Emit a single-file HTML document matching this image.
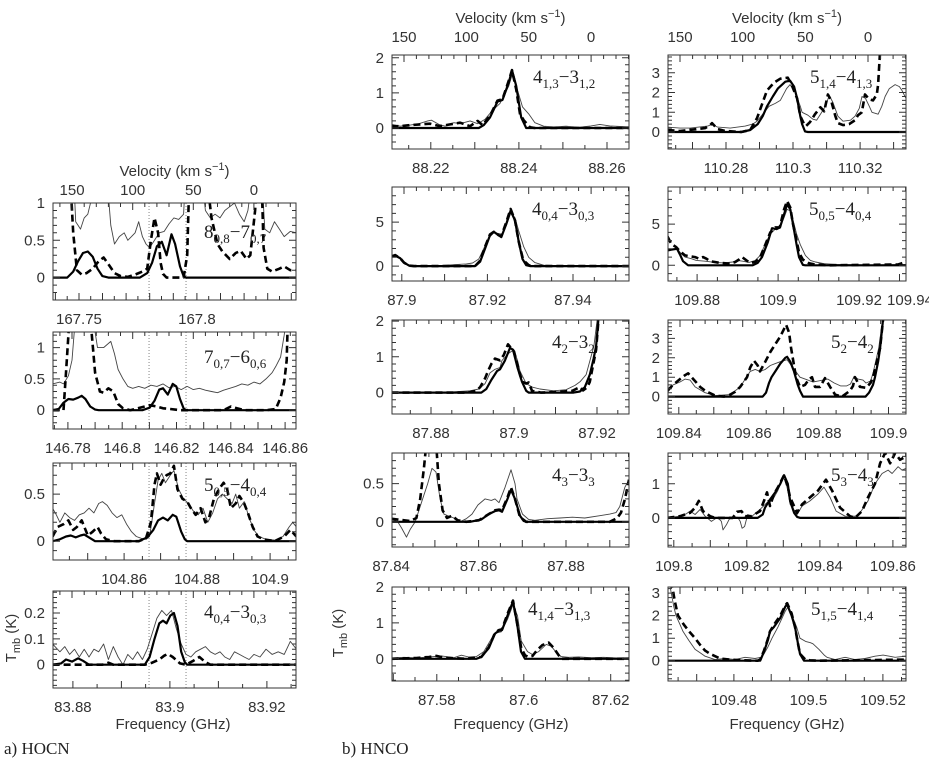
<!DOCTYPE html>
<html><head><meta charset="utf-8"><style>
html,body{margin:0;padding:0;background:#fff;}
svg{display:block;}
.tk{font-family:"Liberation Sans",sans-serif;font-size:15px;fill:#333;}
.tl{font-family:"Liberation Serif",serif;font-size:19px;fill:#222;}
.cap{font-family:"Liberation Serif",serif;font-size:17px;fill:#222;}
</style></head><body>
<svg id="fig" width="929" height="758" viewBox="0 0 929 758" xmlns="http://www.w3.org/2000/svg"></svg>
<script>
// ---------- data (velocity km/s, Tmb K) ----------
const hocn1Solid=[[166,0],[154,0],[149,0.08],[145,0.22],[141,0.33],[137,0.35],[133,0.28],[129,0.12],[125,0.02],[120,0],[94,0],[88,0.06],[84,0.2],[80,0.42],[76,0.48],[72,0.3],[68,0.58],[65,0.45],[61,0.15],[58,0.02],[56,0],[-35,0]];
const hocn1Dash=[[166,1.5],[152,1.5],[149,0.6],[146,0.1],[142,0.04],[138,0.06],[133,0.12],[128,0.22],[124,0.27],[120,0.18],[115,0.06],[110,0.02],[104,0.01],[98,0.04],[92,0.08],[88,0.12],[85,0.5],[82,0.8],[79,0.6],[77,0.2],[75,0.05],[72,0],[58,0],[55,0.3],[53,1.5],[40,1.5],[35,0.8],[30,0.45],[26,0.35],[20,0.25],[15,0.33],[11,0.36],[6,0.25],[3,0.3],[-1,0.9],[-3,1.5],[-6,1.5],[-8,0.4],[-11,0.12],[-15,0.08],[-21,0.12],[-25,0.15],[-30,0.1],[-35,0.1]];
const hocn1Obs=[[166,1.5],[149,1.5],[147,0.75],[145,0.7],[143,0.65],[140,0.8],[137,0.85],[134,1.05],[130,1.5],[122,1.5],[118,0.7],[115,0.45],[111,0.55],[107,0.6],[104,0.5],[101,0.55],[98,0.6],[95,0.75],[92,0.55],[89,0.45],[86,0.4],[82,0.5],[78,0.6],[74,0.62],[70,0.72],[66,0.8],[62,0.78],[58,0.85],[56,1.5],[44,1.5],[40,0.9],[36,0.8],[32,0.85],[28,0.8],[24,0.9],[20,0.95],[16,1.0],[12,0.85],[8,0.75],[5,0.9],[0,1.5],[-6,1.5],[-9,0.65],[-13,0.6],[-17,0.75],[-21,0.65],[-25,0.55],[-30,0.62],[-35,0.6]];

const hocn2Solid=[[166,0],[161,0.02],[157,0.12],[153,0.18],[149,0.17],[145,0.2],[142,0.23],[139,0.18],[135,0.06],[131,0.01],[128,0],[92,0],[86,0.04],[82,0.15],[78,0.33],[75,0.35],[71,0.25],[67,0.42],[64,0.38],[61,0.18],[58,0.03],[56,0],[-35,0]];
const hocn2Dash=[[166,0],[157,0],[155,0.6],[152,1.5],[135,1.5],[131,0.6],[127,0.3],[124,0.28],[120,0.35],[116,0.3],[112,0.1],[108,0.03],[102,0],[94,0.04],[86,0.08],[80,0.06],[75,0.03],[69,0.02],[61,0],[25,0],[19,0.06],[14,0.03],[8,0],[-10,0],[-18,0.02],[-22,0.2],[-25,0.45],[-27,0.8],[-28,1.5],[-35,1.5]];
const hocn2Obs=[[166,0.42],[160,0.45],[157,0.42],[153,0.55],[150,0.8],[148,1.3],[146,1.5],[133,1.5],[129,1.0],[124,1.0],[118,1.1],[115,0.9],[112,0.65],[108,0.5],[104,0.38],[100,0.35],[95,0.38],[90,0.35],[85,0.4],[80,0.38],[75,0.42],[70,0.36],[65,0.38],[60,0.33],[55,0.38],[50,0.33],[45,0.35],[40,0.32],[35,0.3],[30,0.28],[25,0.32],[20,0.35],[15,0.38],[10,0.42],[5,0.4],[0,0.45],[-5,0.42],[-10,0.5],[-15,0.6],[-18,0.7],[-22,0.85],[-25,1.2],[-27,1.5],[-35,1.5]];

const hocn3Solid=[[166,0],[160,0.02],[155,0.05],[151,0.06],[147,0.04],[143,0.06],[140,0.07],[136,0.04],[131,0],[95,0],[88,0.04],[83,0.12],[79,0.22],[75,0.25],[71,0.22],[67,0.28],[64,0.26],[60,0.1],[57,0.02],[55,0],[-35,0]];
const hocn3Dash=[[166,0.05],[162,0.15],[157,0.18],[153,0.22],[149,0.12],[146,0.15],[142,0.22],[137,0.06],[133,0.1],[129,0.15],[126,0.08],[122,0.02],[115,0],[95,0],[89,0.03],[85,0.2],[82,0.6],[80,0.72],[77,0.6],[75,0.65],[72,0.7],[69,0.72],[66,0.8],[63,0.55],[59,0.45],[55,0.42],[52,0.35],[48,0.28],[44,0.35],[40,0.2],[37,0.25],[33,0.45],[29,0.55],[25,0.62],[22,0.55],[19,0.35],[15,0.4],[12,0.48],[8,0.4],[5,0.3],[1,0.15],[-3,0.05],[-8,0.02],[-17,0],[-25,0.05],[-30,0.12],[-35,0.05]];
const hocn3Obs=[[166,0.35],[163,0.28],[160,0.2],[156,0.3],[152,0.25],[148,0.22],[144,0.28],[140,0.3],[136,0.35],[132,0.3],[128,0.4],[125,0.42],[121,0.38],[117,0.3],[113,0.25],[109,0.28],[105,0.18],[101,0.1],[97,0.05],[93,0.03],[89,0.02],[86,0.05],[82,0.4],[79,0.65],[76,0.72],[73,0.62],[69,0.7],[66,0.75],[62,0.55],[58,0.45],[54,0.4],[50,0.32],[46,0.28],[42,0.35],[38,0.2],[34,0.3],[30,0.45],[26,0.5],[22,0.45],[18,0.4],[15,0.5],[12,0.35],[8,0.42],[4,0.25],[0,0.12],[-4,0.05],[-10,0.02],[-18,0.01],[-24,0.05],[-29,0.15],[-32,0.2],[-35,0.15]];

const hocn4Solid=[[166,0],[159,0.005],[155,0.02],[150,0.012],[145,0.025],[141,0.015],[136,0],[90,0],[86,0.03],[82,0.1],[78,0.16],[75,0.17],[72,0.16],[69,0.19],[66,0.2],[63,0.15],[60,0.05],[57,0.01],[55,0],[-35,0]];
const hocn4Dash=[[166,0],[125,0],[120,0.008],[116,0],[90,0],[84,0.008],[78,0.02],[74,0.035],[71,0.042],[67,0.03],[64,0.018],[61,0.005],[56,0],[50,0.015],[45,0.03],[40,0.01],[36,0],[-35,0]];
const hocn4Obs=[[166,0.08],[160,0.05],[156,0.07],[152,0.04],[148,0.06],[144,0.03],[140,0.06],[136,0.03],[132,0.06],[128,0.05],[124,0.08],[120,0.02],[116,0.07],[112,0.03],[108,0],[104,0.04],[100,0.02],[96,0.05],[92,0.02],[88,0.06],[84,0.12],[80,0.18],[76,0.21],[72,0.19],[68,0.21],[64,0.14],[60,0.08],[56,0.04],[52,0.03],[48,0.05],[44,0.06],[40,0.07],[36,0.05],[32,0.04],[28,0.05],[24,0.03],[20,0.02],[16,0.05],[12,0.04],[8,0.03],[4,0.02],[0,0.04],[-5,0.03],[-10,0.06],[-15,0.04],[-20,0.05],[-25,0.04],[-30,0.09],[-35,0.06]];

const hnco1Solid=[[160,0],[90,0],[86,0.08],[81,0.3],[75,0.75],[71,0.8],[66,1.3],[63.4,1.65],[60,1.2],[56,0.3],[52,0],[-31,0]];
const hnco1Dash=[[160,0.05],[153,0.05],[145,0.08],[137,0.1],[129,0.12],[121,0.05],[113,0.1],[105,0.15],[97,0.05],[91,0.2],[87,0.08],[81,0.35],[75,0.78],[71,0.82],[66,1.35],[63.4,1.65],[60,1.1],[57,0.4],[54,0.22],[49,0.02],[45,0],[-31,0]];
const hnco1Obs=[[160,0.1],[153,0.05],[145,0.08],[138,0.12],[131,0.2],[128,0.22],[122,0.1],[117,0.05],[110,0.15],[105,0.12],[97,0.2],[91,0.12],[85,0.25],[79,0.5],[73,0.7],[66,1.2],[63.4,1.5],[60,1.2],[55,0.6],[50,0.4],[45,0.15],[38,0.05],[30,0.03],[20,0.05],[10,0.02],[0,0.06],[-7,0.1],[-15,0.06],[-25,0.04],[-31,0.03]];

const hnco2Solid=[[160,1.1],[157,1.2],[153,0.9],[150,0.4],[146,0.05],[142,0],[93,0],[89,0.5],[85,2],[81,3.5],[78,3.9],[74,3.5],[72,3.3],[68,4.8],[64.5,6.3],[61,5.2],[58,2.8],[55,0.8],[52,0.1],[49,0],[-31,0]];
const hnco2Dash=[[160,1.1],[157,1.25],[153,0.9],[150,0.4],[146,0.05],[142,0],[93,0],[89,0.6],[85,2.2],[81,3.6],[78,3.9],[74,3.5],[72,3.4],[68,5],[64.5,6.5],[61,5.2],[58,2.8],[55,1],[53,0.5],[50,0.1],[47,0],[-31,0]];
const hnco2Obs=[[160,1.0],[157,1.1],[153,0.8],[150,0.35],[146,0.1],[140,0],[120,0.05],[110,0.15],[100,0.25],[95,0.35],[90,0.8],[86,2],[82,3.2],[78,3.8],[74,3.7],[71,3.6],[68,4.6],[64.5,6],[61,5.5],[58,4],[54,2.2],[50,1],[45,0.4],[38,0.1],[30,0.05],[0,0],[-31,0]];

const hnco3Solid=[[160,0],[88,0],[84,0.1],[80,0.35],[75.4,0.6],[73,0.65],[69,0.9],[65,1.25],[62.6,1.2],[59,0.7],[55.4,0.3],[52,0.05],[50,0],[14,0],[9,0.03],[5,0.15],[1,0.5],[-2,0.95],[-4,1.3],[-7,2.5],[-31,3]];
const hnco3Dash=[[160,0],[100,0],[92,0.05],[89,0.15],[85,0.4],[82.6,0.6],[80,0.8],[77,0.95],[73,0.9],[70,1.05],[66.6,1.35],[61.8,1.15],[57,0.5],[55,0.3],[52,0.25],[50,0.28],[47.4,0.05],[40,0],[25,0.02],[15,0.05],[11,0.12],[8.9,0.15],[6.5,0.06],[3,0.15],[1,0.3],[-4,1.2],[-7,2.5],[-31,3]];
const hnco3Obs=[[160,0],[130,0],[110,0.02],[97,0.05],[90,0.1],[85,0.25],[81,0.55],[77,0.65],[73,0.7],[71.4,0.9],[66,1.1],[62,1.2],[59,0.9],[57,0.6],[52,0.25],[47,0.15],[41,0.1],[30,0.05],[20,0.08],[12.9,0.2],[8.9,0.3],[4,0.5],[0.9,0.9],[-2.3,1.3],[-5.5,2.2],[-8,3],[-31,3]];

const hnco4Solid=[[160,0],[97,0],[88,0.03],[82,0.1],[77,0.14],[73.8,0.15],[71.4,0.13],[67,0.3],[64.2,0.42],[61,0.3],[57,0.08],[54,0.01],[52,0],[-31,0]];
const hnco4Dash=[[160,0.04],[155,0.03],[150,0.02],[145,0.01],[140,0.05],[137,0.3],[134,0.7],[131,1.2],[125,1.2],[122,0.5],[119,0.15],[115.5,0.05],[111.5,0.08],[107,0.02],[100,0],[90,0.02],[82,0.1],[77,0.15],[73.8,0.16],[71.4,0.15],[67,0.32],[64.2,0.45],[61,0.3],[57,0.06],[52,0],[-15,0],[-21,0.05],[-24,0.12],[-27.2,0.3],[-30.4,0.55]];
const hnco4Obs=[[160,0.03],[155,0],[152,-0.08],[148,-0.2],[145,-0.1],[141,0],[136,0.25],[131,0.5],[127.5,0.7],[124.3,0.65],[121,0.3],[118,0.1],[115,0.08],[110,0.05],[105,0],[100,0.04],[95.5,0.1],[90.7,0.22],[85,0.3],[80,0.28],[77,0.3],[73.8,0.25],[69,0.45],[64.2,0.68],[61,0.5],[59.4,0.3],[55,0.1],[50,0.03],[45,0.02],[35,0.04],[25,0.05],[15,0.06],[5,0.05],[-7,0.08],[-15,0.1],[-20,0.12],[-23,0.2],[-27,0.45],[-30.4,0.55]];

const hnco5Solid=[[160,0],[92,0],[88,0.05],[82,0.3],[77,0.7],[74,0.78],[71.4,0.8],[67,1.2],[62.6,1.6],[59.4,1.0],[56.2,0.2],[53,0],[-31,0]];
const hnco5Dash=[[160,0],[140,0.02],[130,0.05],[124,0.08],[118,0.03],[100,0],[88,0.05],[82,0.32],[77,0.72],[74,0.8],[71.4,0.82],[67,1.25],[62.6,1.62],[59.4,1.0],[56,0.3],[53,0.1],[51,0.06],[47,0.08],[43,0.25],[39,0.38],[34,0.45],[30,0.3],[27,0.15],[24,0],[-31,0]];
const hnco5Obs=[[160,0.02],[150,0.04],[140,0.02],[130,0.05],[120,0.08],[110,0.03],[104,0.1],[98,0.05],[92,0.06],[86,0.2],[80,0.55],[76,0.72],[72,0.75],[67,1.1],[62.6,1.5],[59,1.2],[56,0.5],[51,0.2],[47,0.12],[42,0.2],[36,0.4],[32,0.35],[28,0.18],[24,0.06],[18,0.04],[10,0.05],[0,0.03],[-10,0.04],[-20,0.02],[-31,0.03]];

const hnco6Solid=[[160,0],[101,0],[94,0.1],[88,0.4],[84,0.8],[80.6,1.3],[76,1.8],[72,2.2],[66,2.55],[62.2,2.6],[59,2.3],[56.6,1.7],[54,0.8],[52.6,0.4],[50.3,0.03],[48,0],[-31,0]];
const hnco6Dash=[[160,0.1],[150,0.05],[140,0.12],[130,0.2],[126,0.35],[124.5,0.45],[120,0.15],[114,0.05],[101,0],[94,0.1],[88.6,0.7],[84,1.5],[80.6,2.1],[75,2.5],[70,2.7],[64,2.75],[61,2.4],[56.6,1.7],[54,0.8],[51,0.4],[49.5,0.3],[46.3,0.5],[42.3,0.9],[38,1.25],[35,1.05],[32,1.9],[29.5,1.6],[26,0.8],[24,0.45],[20,0.35],[15,0.4],[10.4,0.6],[8,0.85],[5,1.0],[2.4,1.9],[-1,1.65],[-4,1.6],[-7,1.9],[-8,2.4],[-10.4,5],[-31,5]];
const hnco6Obs=[[160,0.25],[150,0.2],[142,0.2],[135,0.25],[128,0.3],[124.5,0.38],[120,0.25],[110,0.2],[104,0.25],[98,0.3],[92,0.4],[88.6,0.55],[84,0.9],[79,1.3],[74,1.45],[70,1.6],[65,2.2],[62.2,2.4],[58,2.0],[54,1.3],[52.6,1.0],[48,0.85],[44,0.65],[41,0.6],[37,1.0],[34,1.3],[31,1.85],[28,1.5],[24,0.8],[20,0.55],[14,0.6],[10.4,0.8],[7,1.2],[4.8,1.8],[2,1.7],[-1,1.3],[-3.2,1.0],[-8,0.9],[-11,1.3],[-13.6,1.8],[-17,2.2],[-21.6,2.4],[-25,2.3],[-27.1,2.1],[-30.3,1.7]];

const hnco7Solid=[[160,1.8],[157,1.9],[152.4,2.0],[150,1.3],[147.6,0.5],[143.6,0],[92,0],[88,0.3],[84.6,1],[80,2.8],[76.6,4.5],[73,4.4],[70.2,4.6],[67,6.2],[64.6,7.4],[62,6.8],[59.9,5],[57,2.5],[55.1,1],[52,0.05],[50,0],[-31,0]];
const hnco7Dash=[[160,3.5],[157,2.6],[153,2.2],[150,1.7],[146,1.2],[142,1.1],[138,1.0],[135,0.8],[131.7,1.0],[129,0.8],[126,0.5],[118,0.3],[110,0.2],[106,0.4],[103,0.7],[100.5,1.0],[97,0.6],[94.2,0.3],[90,0.4],[86,1.0],[82,2.5],[78,4],[74,4.6],[70.5,4.6],[67,6.8],[64.6,7.8],[62,7],[59.9,5],[57,3],[55,1.5],[52,0.7],[47,0.25],[42,0.1],[30,0],[-24,0.1],[-28,0.3],[-30.3,0.5]];
const hnco7Obs=[[160,1.9],[156,2.0],[152.4,2.0],[149,1.4],[146,1.0],[141,0.8],[137,0.6],[130,0.5],[122,0.35],[115,0.3],[108,0.4],[104.5,0.6],[100,0.5],[95,0.35],[90,0.6],[86,1.2],[82,2.6],[78,3.8],[74,4.4],[70.2,4.6],[67,5.8],[64.6,6.8],[62,6.6],[59.9,5.5],[57,3.8],[54,2.5],[50,1.2],[46,0.6],[42,0.4],[35,0.2],[25,0.1],[0,0.05],[-30,0.1]];

const hnco8Solid=[[160,0],[84,0],[81.4,0.2],[79,0.7],[77,1.0],[74,1.3],[70,1.7],[66,2.0],[64.6,2.05],[62,1.8],[59.1,1.3],[56,0.6],[54.3,0.3],[51.9,0],[2,0],[-0.8,0.2],[-4,0.6],[-5.6,1.0],[-8,1.8],[-9.6,2.5],[-12.8,4.5],[-31,5]];
const hnco8Dash=[[160,0.3],[155.6,0.6],[150,0.9],[146,1.1],[143.6,1.2],[138,0.8],[134,0.5],[130,0.3],[122,0.05],[115,0],[110,0.1],[106,0.25],[102,0.5],[96.6,1.0],[94,1.5],[91,1.85],[88,1.6],[86.2,1.3],[82,1.8],[78,2.3],[74,2.7],[70,3.1],[65.4,3.7],[63,3.3],[61.4,2.5],[57.5,1.0],[54.3,0.5],[50.3,0.6],[47,0.9],[44.7,1.0],[42.3,0.5],[38.3,0.5],[34.3,0.95],[30.3,0.5],[26.3,0.1],[20.8,0],[14.4,0.3],[12,0.55],[10.4,1.0],[8,0.7],[6.4,0.5],[1.6,0.45],[-2,0.7],[-4,1.0],[-9.6,2.5],[-12.8,4.5],[-31,5]];
const hnco8Obs=[[160,0.2],[155.6,0.6],[150,0.75],[146,0.9],[142,0.85],[138,0.5],[130,0.2],[122,0.05],[110,0.1],[102,0.5],[98,0.9],[94,1.3],[90,1.4],[86,1.3],[82,1.4],[78,1.6],[74,1.7],[70,1.8],[64.6,1.9],[60,1.5],[54.3,1.0],[48,0.85],[44,0.75],[40,0.8],[36,0.85],[32,0.9],[27,0.7],[22,0.55],[17,0.55],[14,0.65],[11,1.05],[8,0.9],[4,0.85],[1.6,0.7],[-2,0.8],[-4,1.2],[-8.5,2.5],[-12.8,4.5],[-31,5]];

const hnco9Solid=[[160,0],[88,0],[84,0.1],[82.2,0.3],[78,0.55],[74,0.75],[70,1.0],[67,1.25],[64,1.0],[62.2,0.5],[59,0.15],[56.6,0.03],[54,0],[-31,0]];
const hnco9Dash=[[160,0],[150,0.05],[142,0.15],[138,0.3],[135,0.5],[131.7,0.2],[126,0.05],[122,0],[108,0],[104.5,0.18],[101,0.2],[98,0.05],[93,0.05],[86.2,0.2],[83,0.5],[80.6,0.75],[78.2,0.35],[75,0.7],[71.8,0.9],[67,1.25],[64,0.9],[62.2,0.6],[56.6,0.15],[52.6,0.4],[46.3,0.6],[39.9,0.8],[33.5,1.12],[28.7,0.8],[22.3,0.3],[14.4,0.05],[10.4,0],[4.8,0.2],[0,0.6],[-5.6,1.0],[-9.6,1.6],[-13.6,1.9],[-17.6,1.6],[-21.6,1.9],[-25.5,1.7],[-30.3,1.8]];
const hnco9Obs=[[160,0],[150,0.05],[145,0.12],[142,0.2],[138,0.1],[134,0.25],[130,0.05],[125,-0.1],[120,0.02],[117,-0.1],[115.7,-0.35],[113,-0.2],[110,0.02],[104,0.02],[102,-0.1],[100.5,-0.3],[98.5,-0.25],[96,0.1],[92.6,0.05],[86.2,0.25],[80.6,0.45],[76.6,0.5],[72,0.8],[67,1.25],[64,0.8],[62.2,0.4],[56.6,0.1],[52.6,0.35],[46.3,0.5],[39.9,0.7],[35.1,0.9],[30.3,0.6],[25.5,0.2],[18.3,0.05],[10,0.05],[6.4,0.15],[0,0.5],[-5.6,1.0],[-11.2,1.3],[-16,1.4],[-19.2,1.3],[-24,1.5],[-27,1.4],[-30.3,1.45]];

const hnco10Solid=[[160,0],[86,0],[83,0.4],[80,0.9],[78.2,1.3],[75,1.5],[70,1.9],[66,2.4],[64.6,2.5],[61,2.0],[58.3,1.5],[56,0.8],[54.3,0.3],[51.1,0],[-31,0]];
const hnco10Dash=[[160,4],[157,3.5],[154,2.6],[151.6,2.0],[147,1.6],[142.8,1.3],[138,1.0],[134,0.7],[130,0.45],[126,0.3],[118,0.1],[110,0.05],[100,0.02],[88,0],[86,0.05],[83,0.45],[80,0.95],[78.2,1.3],[75,1.6],[70,2.0],[66,2.45],[64.6,2.55],[61,2.1],[58.3,1.5],[56,0.8],[54.3,0.3],[50,0.05],[46.3,0.02],[40,0],[-31,0.05]];
const hnco10Obs=[[160,4],[158,3.3],[155,2.4],[153.2,2.0],[150,1.6],[147.6,1.3],[143,0.9],[138,0.5],[134,0.35],[130,0.2],[122.1,0.05],[114.1,0.1],[106.1,0.05],[98.2,0.15],[90.2,0.1],[85.4,0.15],[83,0.3],[80,0.6],[76.6,1.0],[71.8,1.5],[66,2.2],[63.8,2.4],[60.7,2.0],[57,1.5],[54.3,1.0],[49.5,0.85],[46,0.8],[43.9,0.75],[39.1,0.5],[35,0.25],[32.7,0.15],[26.3,0.05],[18.3,0.15],[10.4,0.05],[2.4,0.1],[-5.6,0.2],[-12,0.25],[-17,0.2],[-21.6,0.15],[-26,0.18],[-30.3,0.2]];

// tick labels
const velTicks=[150,100,50,0];
const dottedVel=[86.5,56];

// ---------- layout ----------
const L={x:53,w:243,h:97,vL:165.7,vR:-34.7};
const M={x:392,w:237,h:94,vL:159.6,vR:-30.4};
const R={x:668,w:238,h:94,vL:159.6,vR:-30.3};
const panels=[
 {n:'hocn-8-7',c:L,y:203,yr:[-0.3,1.0],f:[167.739,167.842],fl:['167.75','167.8'],yl:[0,0.5,1],ym:0.1,lab:['8','0,8','7','0,7'],lx:204,ly:238,s:hocn1Solid,d:hocn1Dash,o:hocn1Obs,dot:1,vel:1,vy:190},
 {n:'hocn-7-6',c:L,y:332,yr:[-0.3,1.25],f:[146.7745,146.864],fl:['146.78','146.8','146.82','146.84','146.86'],yl:[0,0.5,1],ym:0.1,lab:['7','0,7','6','0,6'],lx:204,ly:363,s:hocn2Solid,d:hocn2Dash,o:hocn2Obs,dot:1},
 {n:'hocn-5-4',c:L,y:463,yr:[-0.2,0.83],f:[104.8405,104.9071],fl:['104.86','104.88','104.9'],yl:[0,0.5],ym:0.1,lab:['5','0,5','4','0,4'],lx:204,ly:491,s:hocn3Solid,d:hocn3Dash,o:hocn3Obs,dot:1},
 {n:'hocn-4-3',c:L,y:591,yr:[-0.09,0.285],f:[83.8759,83.926],fl:['83.88','83.9','83.92'],yl:[0,0.1,0.2],ym:0.02,lab:['4','0,4','3','0,3'],lx:204,ly:618,s:hocn4Solid,d:hocn4Dash,o:hocn4Obs,dot:1},
 {n:'hnco-413-312',c:M,y:55,yr:[-0.6,2.08],f:[88.2112,88.265],fl:['88.22','88.24','88.26'],yl:[0,1,2],ym:0.2,lab:['4','1,3','3','1,2'],lx:533,ly:83,s:hnco1Solid,d:hnco1Dash,o:hnco1Obs,vel:1,vy:37},
 {n:'hnco-404-303',c:M,y:187,yr:[-1.7,9],f:[87.8977,87.9531],fl:['87.9','87.92','87.94'],yl:[0,5],ym:1,lab:['4','0,4','3','0,3'],lx:532,ly:215,s:hnco2Solid,d:hnco2Dash,o:hnco2Obs},
 {n:'hnco-42-32',c:M,y:320,yr:[-0.6,2.03],f:[87.8706,87.9277],fl:['87.88','87.9','87.92'],yl:[0,1,2],ym:0.2,lab:['4','2','3','2'],lx:552,ly:348,s:hnco3Solid,d:hnco3Dash,o:hnco3Obs},
 {n:'hnco-43-33',c:M,y:453,yr:[-0.33,0.9],f:[87.8402,87.8944],fl:['87.84','87.86','87.88'],yl:[0,0.5],ym:0.1,lab:['4','3','3','3'],lx:552,ly:481,s:hnco4Solid,d:hnco4Dash,o:hnco4Obs},
 {n:'hnco-414-313',c:M,y:587,yr:[-0.62,2],f:[87.5697,87.6242],fl:['87.58','87.6','87.62'],yl:[0,1,2],ym:0.2,lab:['4','1,4','3','1,3'],lx:528,ly:615,s:hnco5Solid,d:hnco5Dash,o:hnco5Obs},
 {n:'hnco-514-413',c:R,y:55,yr:[-0.86,3.9],f:[110.2627,110.3337],fl:['110.28','110.3','110.32'],yl:[0,1,2,3],ym:0.2,lab:['5','1,4','4','1,3'],lx:810,ly:83,s:hnco6Solid,d:hnco6Dash,o:hnco6Obs,vel:1,vy:37},
 {n:'hnco-505-404',c:R,y:187,yr:[-1.9,9.5],f:[109.8728,109.9316],fl:['109.88','109.9','109.92'],yl:[0,5],ym:1,lab:['5','0,5','4','0,4'],lx:809,ly:215,s:hnco7Solid,d:hnco7Dash,o:hnco7Obs,extra:'109.94'},
 {n:'hnco-52-42',c:R,y:320,yr:[-0.9,3.95],f:[109.8369,109.905],fl:['109.84','109.86','109.88','109.9'],yl:[0,1,2,3],ym:0.2,lab:['5','2','4','2'],lx:831,ly:348,s:hnco8Solid,d:hnco8Dash,o:hnco8Obs},
 {n:'hnco-53-43',c:R,y:453,yr:[-0.85,1.9],f:[109.7984,109.8636],fl:['109.8','109.82','109.84','109.86'],yl:[0,1],ym:0.2,lab:['5','3','4','3'],lx:831,ly:481,s:hnco9Solid,d:hnco9Dash,o:hnco9Obs},
 {n:'hnco-515-414',c:R,y:587,yr:[-0.9,3.27],f:[109.4623,109.5262],fl:['109.48','109.5','109.52'],yl:[0,1,2,3],ym:0.2,lab:['5','1,5','4','1,4'],lx:811,ly:615,s:hnco10Solid,d:hnco10Dash,o:hnco10Obs}
];

const NS='http://www.w3.org/2000/svg';
const svg=document.getElementById('fig');
function mk(t,a,p){const e=document.createElementNS(NS,t);for(const k in a)e.setAttribute(k,a[k]);(p||svg).appendChild(e);return e;}

panels.forEach((p,i)=>{
  const c=p.c, x0=c.x, w=c.w, h=c.h, y0=p.y;
  const g=mk('g',{});
  
  
  const xv=v=>x0+(c.vL-v)/(c.vL-c.vR)*w;
  const xf=f=>x0+(f-p.f[0])/(p.f[1]-p.f[0])*w;
  const yv=v=>y0+h-(v-p.yr[0])/(p.yr[1]-p.yr[0])*h;
  const cid='clip'+i;
  const cp=mk('clipPath',{id:cid},g);mk('rect',{x:x0,y:y0,width:w,height:h},cp);
  const plot=mk('g',{'clip-path':'url(#'+cid+')'},g);
  if(p.dot){dottedVel.forEach(v=>{const l=mk('line',{x1:xv(v),x2:xv(v),y1:y0,y2:y0+h,stroke:'#666','stroke-width':0.8,'stroke-dasharray':'1,2'},plot);
    
    });}
  const line=(arr,st,nm)=>{const pth=mk('polyline',Object.assign({points:arr.map(q=>xv(q[0]).toFixed(1)+','+yv(q[1]).toFixed(1)).join(' '),fill:'none','stroke-linejoin':'round'},st),plot);
    
    };
  line(p.o,{stroke:'#444','stroke-width':0.9},'observed-spectrum');
  line(p.s,{stroke:'#000','stroke-width':2.2},'model-solid');
  line(p.d,{stroke:'#000','stroke-width':2.6,'stroke-dasharray':'7,4'},'model-dashed');
  const fr=mk('rect',{x:x0,y:y0,width:w,height:h,fill:'none',stroke:'#333','stroke-width':1},g);
  
  
  let tk='';
  const ys=p.ym, k0=Math.ceil(p.yr[0]/ys-1e-6), k1=Math.floor(p.yr[1]/ys+1e-6);
  const maj=Math.round(p.yl.length>1?(p.yl[1]-p.yl[0])/ys:5);
  for(let k=k0;k<=k1;k++){const yy=yv(k*ys).toFixed(1);const len=(k%maj===0)?7:4;
    tk+=`M${x0},${yy}h${len}M${x0+w},${yy}h${-len}`;}
  const fs=0.005, j0=Math.ceil(p.f[0]/fs-1e-6), j1=Math.floor(p.f[1]/fs+1e-6);
  for(let j=j0;j<=j1;j++){const xx=xf(j*fs).toFixed(1);const len=(j%2===0)?7:4;tk+=`M${xx},${y0+h}v${-len}`;}
  for(let v=-30;v<=160;v+=10){const xx=xv(v);if(xx<x0||xx>x0+w)continue;const len=(v%50===0)?7:4;tk+=`M${xx.toFixed(1)},${y0}v${len}`;}
  mk('path',{d:tk,stroke:'#333','stroke-width':1,fill:'none'},g);
  p.yl.forEach(v=>{const t=mk('text',{x:x0-8,y:yv(v)+5,'text-anchor':'end',class:'tk'},g);t.textContent=String(v);
    
    });
  p.fl.forEach(s=>{const t=mk('text',{x:xf(parseFloat(s)),y:y0+h+24,'text-anchor':'middle',class:'tk'},g);t.textContent=s;
    
    });
  if(p.extra){const t=mk('text',{x:x0+w+4,y:y0+h+24,'text-anchor':'middle',class:'tk'},g);t.textContent=p.extra;
    
    }
  if(p.vel){velTicks.forEach(v=>{const t=mk('text',{x:xv(v),y:p.vy+5,'text-anchor':'middle',class:'tk'},g);t.textContent=String(v);
      
      });
    const tt=mk('text',{x:x0+w/2,y:p.vy-14,'text-anchor':'middle',class:'tk'},g);
    tt.innerHTML='Velocity (km s<tspan dy="-6" font-size="11">−1</tspan><tspan dy="6">)</tspan>';
    
    }
  const lb=mk('text',{x:p.lx,y:p.ly,class:'tl'},g);
  lb.innerHTML=`${p.lab[0]}<tspan dy="5" font-size="13">${p.lab[1]}</tspan><tspan dy="-5">−${p.lab[2]}</tspan><tspan dy="5" font-size="13">${p.lab[3]}</tspan>`;
  
  
});

function title(x,y,txt,name,rot){const t=mk('text',{x:x,y:y,'text-anchor':'middle',class:'tk'});if(rot)t.setAttribute('transform',`rotate(-90 ${x} ${y})`);t.innerHTML=txt;
  
  return t;}
title(173,729,'Frequency (GHz)','x-axis-title-hocn');
title(511,729,'Frequency (GHz)','x-axis-title-hnco-left');
title(787,729,'Frequency (GHz)','x-axis-title-hnco-right');
title(16,638,'T<tspan dy="4" font-size="11">mb</tspan><tspan dy="-4"> (K)</tspan>','y-axis-title-hocn',1);
title(343,633,'T<tspan dy="4" font-size="11">mb</tspan><tspan dy="-4"> (K)</tspan>','y-axis-title-hnco',1);
const a=mk('text',{x:4,y:754,class:'cap'});a.textContent='a) HOCN';


const b=mk('text',{x:342,y:754,class:'cap'});b.textContent='b) HNCO';


</script>
</body></html>
